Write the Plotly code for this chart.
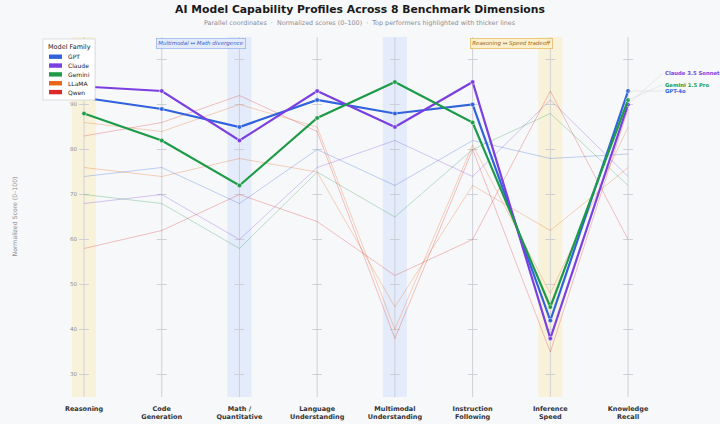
import plotly.graph_objects as go

# ---------------- data ----------------
dimensions = ["Reasoning", "Code<br>Generation", "Math /<br>Quantitative", "Language<br>Understanding",
              "Multimodal<br>Understanding", "Instruction<br>Following", "Inference<br>Speed", "Knowledge<br>Recall"]

families = ["GPT", "Claude", "Gemini", "LLaMA", "Qwen"]
family_colors = ["#2f62dc", "#7a3fe0", "#1e9b48", "#e8651a", "#dc2a2a"]

# top performers (thick lines)
top_names = ["GPT-4o", "Claude 3.5 Sonnet", "Gemini 1.5 Pro"]
top_families = ["GPT", "Claude", "Gemini"]
gpt_4o = [91.5, 89, 85, 91, 88, 90, 42, 93]
claude_35_sonnet = [94, 93, 82, 93, 85, 95, 38, 90]
gemini_15_pro = [88, 82, 72, 87, 95, 86, 45, 91]
top_scores = [gpt_4o, claude_35_sonnet, gemini_15_pro]

# other models (thin lines)
other_families = ["GPT", "Claude", "Gemini", "LLaMA", "Qwen", "LLaMA", "Qwen"]
gpt_other = [74, 76, 68, 80, 72, 82, 78, 79]
claude_other = [68, 70, 60, 76, 82, 74, 91, 74]
gemini_other = [70, 68, 58, 75, 65, 80, 88, 72]
llama_large = [86, 84, 90, 85, 40, 81, 48, 85]
qwen_large = [83, 86, 92, 84, 38, 80, 35, 89]
llama_mid = [76, 74, 78, 75, 45, 72, 62, 76]
qwen_small = [58, 62, 70, 64, 52, 60, 93, 60]
other_scores = [gpt_other, claude_other, gemini_other, llama_large, qwen_large, llama_mid, qwen_small]

tick_values = [30, 40, 50, 60, 70, 80, 90, 100]
tick_labels = ["30", "40", "50", "60", "70", "80", "90", ""]   # 100 sits under the legend
yellow_dims = [0, 6]   # Reasoning, Inference Speed
blue_dims = [2, 4]     # Math, Multimodal

# ---------------- styling ----------------
W, H = 720, 424
MT, MB = 37, 27
BG = "#f7f8fa"
AXIS_COL = "#c9ccd2"
fam_col = dict(zip(families, family_colors))
label_y = {"Claude 3.5 Sonnet": 97.0, "Gemini 1.5 Pro": 94.4, "GPT-4o": 93.0}
PH = H - MT - MB

def px_x(p):
    return p / W

def px_y(p):
    return 1 - (p - MT) / PH

def rgba(hexc, a):
    h = hexc.lstrip("#")
    return f"rgba({int(h[0:2],16)},{int(h[2:4],16)},{int(h[4:6],16)},{a})"

fig = go.Figure()
n = len(dimensions)
xs = list(range(n))

# vertical axes and tick dashes
for i in xs:
    fig.add_trace(go.Scatter(x=[i, i], y=[25, 105], mode="lines",
                             line=dict(color=AXIS_COL, width=0.9),
                             hoverinfo="skip", showlegend=False))
    fig.add_trace(go.Scatter(x=[i] * len(tick_values), y=tick_values, mode="markers",
                             marker=dict(symbol="line-ew-open", size=7, color=AXIS_COL,
                                         line=dict(color=AXIS_COL, width=0.9)),
                             hoverinfo="skip", showlegend=False))

# thin lines
for fam, sc in zip(other_families, other_scores):
    fig.add_trace(go.Scatter(x=xs, y=sc, mode="lines",
                             line=dict(color=rgba(fam_col[fam], 0.36), width=0.8),
                             showlegend=False, hoverinfo="skip"))

# thick lines
for name, fam, sc in zip(top_names, top_families, top_scores):
    fig.add_trace(go.Scatter(x=xs, y=sc, mode="lines+markers", name=name,
                             line=dict(color=fam_col[fam], width=2.2),
                             marker=dict(size=4.5, color=fam_col[fam],
                                         line=dict(color="white", width=0.5)),
                             showlegend=False))

shapes = []
for i in yellow_dims:
    shapes.append(dict(type="rect", xref="x", yref="paper", x0=i - 0.155, x1=i + 0.155, y0=0, y1=1,
                       fillcolor="rgba(250,236,180,0.45)", line_width=0, layer="below"))
for i in blue_dims:
    shapes.append(dict(type="rect", xref="x", yref="paper", x0=i - 0.155, x1=i + 0.155, y0=0, y1=1,
                       fillcolor="rgba(205,220,250,0.45)", line_width=0, layer="below"))

annotations = [
    dict(text="Parallel coordinates  ·  Normalized scores (0–100)  ·  Top performers highlighted with thicker lines",
         xref="paper", yref="paper", x=0.5, y=px_y(23), showarrow=False,
         font=dict(size=6.4, color="#8a8d94"), xanchor="center", yanchor="middle"),
    dict(text="<i>Multimodal ↔ Math divergence</i>", xref="x", yref="paper", x=1.5, y=px_y(43),
         showarrow=False, font=dict(size=5.5, color="#3a5cc4"), bgcolor="#e3ebfb",
         bordercolor="#8fb0ee", borderwidth=0.7, borderpad=1.5, yanchor="middle"),
    dict(text="<i>Reasoning ↔ Speed tradeoff</i>", xref="x", yref="paper", x=5.5, y=px_y(43),
         showarrow=False, font=dict(size=5.5, color="#9a6418"), bgcolor="#fcefcb",
         bordercolor="#e6b55a", borderwidth=0.7, borderpad=1.5, yanchor="middle"),
    dict(text="Normalized Score (0–100)", xref="paper", yref="paper", x=px_x(8), y=0.5,
         textangle=-90, showarrow=False, font=dict(size=6.2, color="#8a8d94"), yanchor="middle"),
]
for name, fam, sc in zip(top_names, top_families, top_scores):
    annotations.append(dict(text=f"<b>{name}</b>", xref="x", yref="y", x=n - 1, y=sc[-1],
                            ax=n - 1 + 0.45, ay=label_y[name], axref="x", ayref="y",
                            showarrow=True, arrowhead=0, arrowwidth=0.5, arrowcolor="#d4d6da",
                            xanchor="left", yanchor="middle", font=dict(size=5.3, color=fam_col[fam])))

# legend box (drawn manually for compact spacing)
shapes.append(dict(type="rect", xref="paper", yref="paper", x0=px_x(43), x1=px_x(95),
                   y0=px_y(100), y1=px_y(39), fillcolor="white", line=dict(color="#cfd1d5", width=0.7),
                   layer="above"))
annotations.append(dict(text="Model Family", xref="paper", yref="paper", x=px_x(69), y=px_y(47),
                        showarrow=False, font=dict(size=6.5, color="#222"), xanchor="center",
                        yanchor="middle"))
for k, fam in enumerate(families):
    yc = 56.7 + k * 8.85
    shapes.append(dict(type="rect", xref="paper", yref="paper", x0=px_x(49), x1=px_x(62),
                       y0=px_y(yc + 2.2), y1=px_y(yc - 2.2), fillcolor=fam_col[fam], line_width=0,
                       layer="above"))
    annotations.append(dict(text=fam, xref="paper", yref="paper", x=px_x(66), y=px_y(yc),
                            showarrow=False, font=dict(size=6, color="#222"), xanchor="left",
                            yanchor="middle"))

fig.update_layout(
    width=W, height=H,
    paper_bgcolor=BG, plot_bgcolor=BG,
    margin=dict(l=0, r=0, t=MT, b=MB),
    title=dict(text="<b>AI Model Capability Profiles Across 8 Benchmark Dimensions</b>",
               x=0.5, xanchor="center", y=1 - 9 / H, yanchor="middle", yref="container",
               font=dict(size=10.8, color="#1a1a1a", family="DejaVu Sans")),
    font=dict(family="DejaVu Sans"),
    xaxis=dict(domain=[60.7 / W, 698 / W], range=[-0.3, 7.9], showgrid=False, zeroline=False,
               tickvals=xs, ticktext=[f"<b>{d}</b>" for d in dimensions], ticklabelstandoff=6,
               tickfont=dict(size=6.5, color="#333"), ticks="", showline=False, automargin=False),
    yaxis=dict(range=[25, 105], anchor="free", position=77 / W, showgrid=False, zeroline=False,
               tickvals=tick_values, ticktext=tick_labels,
               tickfont=dict(size=5.5, color="#8a8d94"), ticks="", showline=False, automargin=False),
    shapes=shapes, annotations=annotations, showlegend=False,
)

fig.write_html("out.html", config={"displayModeBar": False},
               post_script="document.body.style.margin='0';")
